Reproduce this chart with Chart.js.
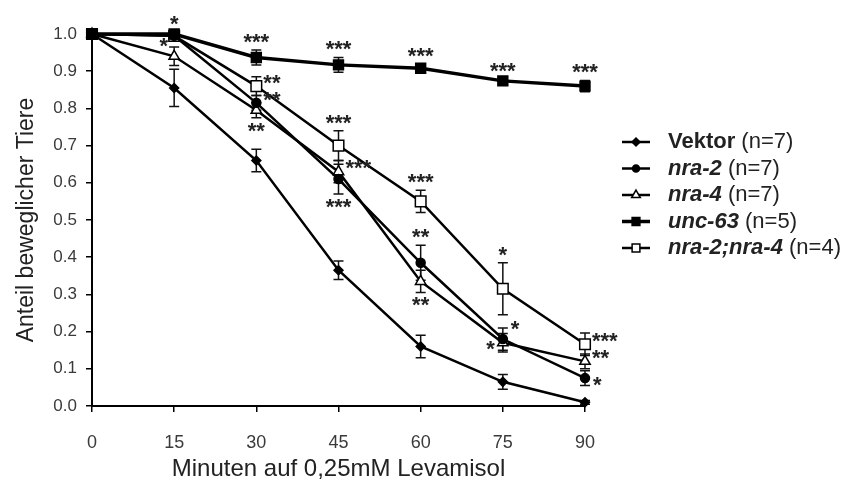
<!DOCTYPE html>
<html>
<head>
<meta charset="utf-8">
<script src="https://cdn.jsdelivr.net/npm/chart.js@4.4.0/dist/chart.umd.min.js"></script>
<style>
  html, body { margin: 0; background: #fff; }
  #wrap { width: 846px; height: 484px; }
</style>
</head>
<body>
<div id="wrap"><canvas id="myChart"></canvas></div>
<script>
// Minuten auf Levamisol
const minutes = [0, 15, 30, 45, 60, 75, 90];

// Anteil beweglicher Tiere (Mittelwert) und Fehler
const vektor    = [1.0, 0.855, 0.66, 0.365, 0.16, 0.065, 0.01];
const vektorErr = [0, 0.05, 0.03, 0.025, 0.03, 0.02, 0.005];
const nra2      = [1.0, 0.995, 0.815, 0.61, 0.385, 0.18, 0.075];
const nra2Err   = [0, 0.005, 0.02, 0.04, 0.047, 0.03, 0.02];
const nra4      = [1.0, 0.94, 0.795, 0.63, 0.335, 0.17, 0.12];
const nra4Err   = [0, 0.025, 0.02, 0.03, 0.03, 0.025, 0.02];
const unc63     = [1.0, 1.0, 0.937, 0.917, 0.908, 0.874, 0.86];
const unc63Err  = [0, 0.005, 0.02, 0.02, 0.01, 0.005, 0.015];
const doppel    = [1.0, 0.995, 0.86, 0.70, 0.55, 0.315, 0.166];
const doppelErr = [0, 0.005, 0.025, 0.04, 0.03, 0.07, 0.03];

// Signifikanz-Sternchen
const nra2Sig   = ['', '', '**', '***', '**', '*', '*'];
const nra4Sig   = ['', '*', '**', '***', '**', '*', '**'];
const unc63Sig  = ['', '*', '***', '***', '***', '***', '***'];
const doppelSig = ['', '', '**', '***', '***', '*', '***'];

const yTicks = [0, 0.1, 0.2, 0.3, 0.4, 0.5, 0.6, 0.7, 0.8, 0.9, 1.0];

// wo die Sternchen stehen (a = oben, b = unten, r/l = rechts/links)
const nra2Side   = ['', '', 'r', 'b', 'a', 'ru', 'rd'];
const nra4Side   = ['', 'lu', 'b', 'r', 'b', 'l', 'r'];
const unc63Side  = ['', 'a', 'a', 'a', 'a', 'a', 'a'];
const doppelSide = ['', '', 'r', 'a', 'a', 'a', 'r'];

const FONT = "'Liberation Sans', Arial, sans-serif";
const pts = vals => vals.map((v, i) => ({ x: minutes[i], y: v }));

const series = [
  { label: 'Vektor', n: '(n=7)', italic: false, data: vektor, err: vektorErr, sig: [], side: [],
    pointStyle: 'rectRot', radius: 4.5, fill: '#000', width: 2.5, legendRadius: 4 },
  { label: 'nra-2', n: '(n=7)', italic: true, data: nra2, err: nra2Err, sig: nra2Sig, side: nra2Side,
    pointStyle: 'circle', radius: 4.5, fill: '#000', width: 2.5, legendRadius: 3.5 },
  { label: 'nra-4', n: '(n=7)', italic: true, data: nra4, err: nra4Err, sig: nra4Sig, side: nra4Side,
    pointStyle: 'triangle', radius: 6, fill: '#fff', width: 2.5, legendRadius: 5 },
  { label: 'unc-63', n: '(n=5)', italic: true, data: unc63, err: unc63Err, sig: unc63Sig, side: unc63Side,
    pointStyle: 'rect', radius: 7, fill: '#000', width: 3.5, legendRadius: 5.5 },
  { label: 'nra-2;nra-4', n: '(n=4)', italic: true, data: doppel, err: doppelErr, sig: doppelSig, side: doppelSide,
    pointStyle: 'rect', radius: 7.5, fill: '#fff', width: 2.5, legendRadius: 5.5 }
];

const errorBars = {
  id: 'errorBars',
  beforeDatasetsDraw(chart) {
    const { ctx, scales: { x, y } } = chart;
    ctx.save();
    ctx.strokeStyle = '#111';
    ctx.lineWidth = 1.5;
    series.forEach(s => {
      s.err.forEach((e, i) => {
        if (!e) return;
        const px = x.getPixelForValue(minutes[i]);
        const top = y.getPixelForValue(s.data[i] + e);
        const bot = y.getPixelForValue(s.data[i] - e);
        ctx.beginPath();
        ctx.moveTo(px, top); ctx.lineTo(px, bot);
        ctx.moveTo(px - 5, top); ctx.lineTo(px + 5, top);
        ctx.moveTo(px - 5, bot); ctx.lineTo(px + 5, bot);
        ctx.stroke();
      });
    });
    ctx.restore();
  },
  afterDatasetsDraw(chart) {
    const { ctx, scales: { x, y } } = chart;
    const size = 22;
    ctx.save();
    ctx.fillStyle = '#222';
    ctx.font = 'bold ' + size + 'px ' + FONT;
    ctx.textBaseline = 'alphabetic';
    series.forEach(s => {
      s.sig.forEach((txt, i) => {
        if (!txt) return;
        const px = x.getPixelForValue(minutes[i]);
        const py = y.getPixelForValue(s.data[i]);
        const ep = Math.abs(y.getPixelForValue(s.data[i] + s.err[i]) - py);
        let tx = px, cy = py, align = 'center';
        switch (s.side[i]) {
          case 'a': cy = py - ep - 10; break;
          case 'b': cy = py + ep + 11; break;
          case 'r': tx = px + 7; cy = py - 5; align = 'left'; break;
          case 'ru': tx = px + 8; cy = py - 12; align = 'left'; break;
          case 'rd': tx = px + 8; cy = py + 5; align = 'left'; break;
          case 'l': tx = px - 8; cy = py + 4; align = 'right'; break;
          case 'lu': tx = px - 6; cy = py - 12; align = 'right'; break;
        }
        ctx.textAlign = align;
        ctx.fillText(txt, tx, cy + 0.4 * size);
      });
    });
    ctx.restore();
  }
};

const sideLegend = {
  id: 'sideLegend',
  afterDraw(chart) {
    const { ctx } = chart;
    const x0 = 622, x1 = 650, tx = 668;
    ctx.save();
    series.forEach((s, i) => {
      const yy = 142 + i * 26.5;
      ctx.strokeStyle = '#000';
      ctx.lineWidth = s.width;
      ctx.beginPath(); ctx.moveTo(x0, yy); ctx.lineTo(x1, yy); ctx.stroke();
      ctx.fillStyle = s.fill;
      ctx.lineWidth = 1.5;
      Chart.helpers.drawPoint(ctx, { pointStyle: s.pointStyle, radius: s.legendRadius, borderWidth: 1.5, rotation: 0 }, (x0 + x1) / 2, yy);
      ctx.fillStyle = '#222';
      ctx.textBaseline = 'middle';
      ctx.textAlign = 'left';
      ctx.font = (s.italic ? 'italic ' : '') + 'bold 22px ' + FONT;
      ctx.fillText(s.label, tx, yy);
      const w = ctx.measureText(s.label + ' ').width;
      ctx.font = '22px ' + FONT;
      ctx.fillText(s.n, tx + w, yy);
    });
    ctx.restore();
  }
};

const ctx = document.getElementById('myChart').getContext('2d');
new Chart(ctx, {
  type: 'line',
  data: {
    datasets: series.map(s => ({
      label: s.label,
      data: pts(s.data),
      borderColor: '#000',
      borderWidth: s.width,
      pointStyle: s.pointStyle,
      pointRadius: s.radius,
      pointBackgroundColor: s.fill,
      pointBorderColor: '#000',
      pointBorderWidth: 1.5,
      tension: 0,
      clip: false
    }))
  },
  options: {
    responsive: true,
    maintainAspectRatio: false,
    animation: false,
    events: [],
    layout: { padding: { top: 34, right: 261, bottom: 0, left: 0 } },
    plugins: { legend: { display: false }, tooltip: { enabled: false } },
    scales: {
      x: {
        type: 'linear', min: 0, max: 90,
        afterBuildTicks: sc => { sc.ticks = minutes.map(v => ({ value: v })); },
        afterFit: sc => { sc.height = 78; },
        border: { color: '#000', width: 2 },
        grid: { drawOnChartArea: false, drawTicks: true, tickLength: 6, color: '#000', lineWidth: 1.5 },
        ticks: { color: '#3a3a3a', padding: 20, font: { family: FONT, size: 18 } },
        title: { display: true, text: 'Minuten auf 0,25mM Levamisol', color: '#222',
                 padding: { top: 0, bottom: 0 }, font: { family: FONT, size: 24 } }
      },
      y: {
        min: 0, max: 1,
        afterBuildTicks: sc => { sc.ticks = yTicks.map(v => ({ value: v })); },
        afterFit: sc => { sc.width = 92; },
        border: { color: '#000', width: 2 },
        grid: { drawOnChartArea: false, drawTicks: true, tickLength: 6, color: '#000', lineWidth: 1.5 },
        ticks: { color: '#3a3a3a', padding: 9, font: { family: FONT, size: 17 }, callback: v => v.toFixed(1) },
        title: { display: true, text: 'Anteil beweglicher Tiere', color: '#222',
                 padding: { top: 13, bottom: 0 }, font: { family: FONT, size: 23 } }
      }
    }
  },
  plugins: [errorBars, sideLegend]
});
</script>
</body>
</html>
